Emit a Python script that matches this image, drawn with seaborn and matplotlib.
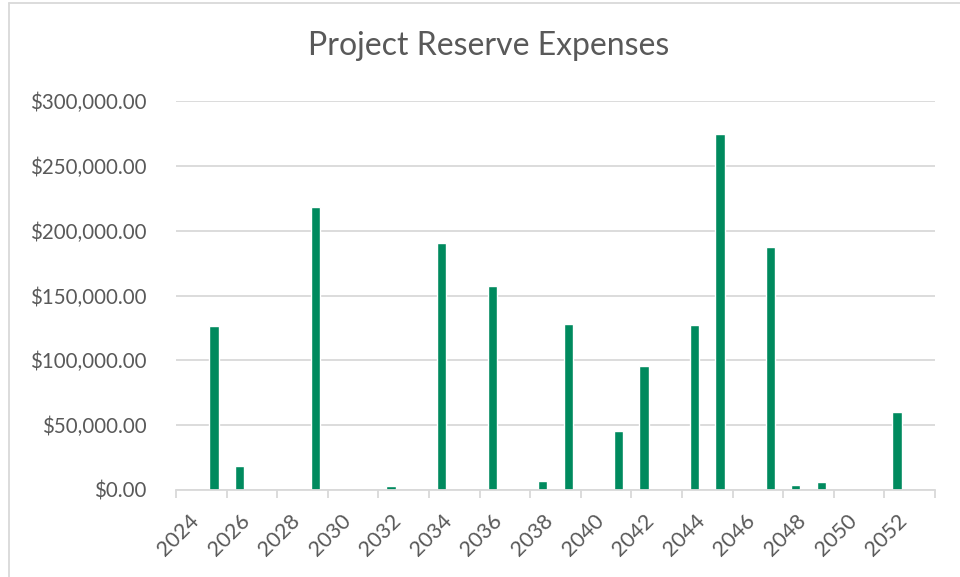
import seaborn as sns
import matplotlib.pyplot as plt
from matplotlib.lines import Line2D
from matplotlib.ticker import FuncFormatter, FixedLocator

# data (one category per year, empty years are 0)
years = list(range(2024, 2054))
expenses = [0, 126400, 18200, 0, 0, 218000, 0, 0, 2700, 0,
            190300, 0, 157300, 0, 7100, 127700, 0, 45200, 96000, 0,
            127100, 274500, 0, 187600, 3500, 6300, 0, 0, 60400, 0]
labels = [str(y) if (y - 2024) % 2 == 0 else "" for y in years]

bar_color = "#008A5E"
text_color = "#595959"
grid_color = "#D9D9D9"

sns.set_style("white")
plt.rcParams["font.family"] = ["Lato", "DejaVu Sans"]

fig = plt.figure(figsize=(9.6, 5.77), dpi=100)
ax = fig.add_axes([176 / 960, 1 - 490 / 577, (935 - 176) / 960, (490 - 101) / 577])

sns.barplot(x=[str(y) for y in years], y=expenses, color=bar_color,
            width=0.36, saturation=1, ax=ax)

ax.set_xlim(-0.5, len(years) - 0.5)
ax.set_ylim(0, 300000)
ax.set_yticks(range(0, 300001, 50000))
ax.yaxis.set_major_formatter(FuncFormatter(lambda v, p: f"${v:,.2f}"))
ax.grid(axis="y", color=grid_color, linewidth=1.3)
ax.set_axisbelow(True)

# labels every other year, tick marks between category pairs
ax.set_xticks(range(0, len(years), 2))
ax.set_xticklabels([labels[i] for i in range(0, len(years), 2)],
                   rotation=45, ha="right", rotation_mode="anchor")
ax.xaxis.set_minor_locator(FixedLocator([i - 0.5 for i in range(0, len(years) + 1, 2)]))
ax.tick_params(axis="x", which="major", length=0, pad=15, labelsize=15.5, labelcolor=text_color)
ax.tick_params(axis="x", which="minor", length=6, width=1.3, color=grid_color, bottom=True)
ax.tick_params(axis="y", length=0, pad=21, labelsize=14.8, labelcolor=text_color)

for side in ["top", "right", "left"]:
    ax.spines[side].set_visible(False)
ax.spines["bottom"].set_color(grid_color)
ax.spines["bottom"].set_linewidth(1.3)
ax.set_xlabel("")
ax.set_ylabel("")

fig.text(489 / 960, 1 - 46 / 577, "Project Reserve Expenses", ha="center", va="center",
         fontsize=23, color=text_color)

# chart border, only the top and left edges are inside the picture
fig.lines.append(Line2D([8.5 / 960, 1], [1 - 2.5 / 577, 1 - 2.5 / 577], transform=fig.transFigure,
                        color=grid_color, linewidth=1.3))
fig.lines.append(Line2D([8.5 / 960, 8.5 / 960], [0, 1 - 2.5 / 577], transform=fig.transFigure,
                        color=grid_color, linewidth=1.3))

fig.savefig("out.png", dpi=100)
